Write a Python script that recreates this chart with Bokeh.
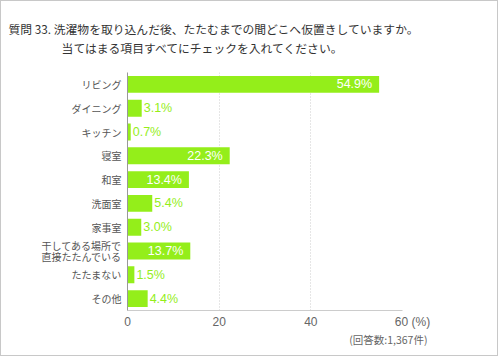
from bokeh.plotting import figure
from bokeh.models import FactorRange, ColumnDataSource, FixedTicker, Range1d, Title
from bokeh.core.properties import value
from bokeh.embed import file_html
from bokeh.resources import INLINE

categories = ["リビング", "ダイニング", "キッチン", "寝室", "和室", "洗面室", "家事室",
              "干してある場所で\n直接たたんでいる", "たたまない", "その他"]
values = [54.9, 3.1, 0.7, 22.3, 13.4, 5.4, 3.0, 13.7, 1.5, 4.4]
x_ticks = [0, 20, 40, 60]
unit_label = "(%)"
title_lines = ["質問 33. 洗濯物を取り込んだ後、たたむまでの間どこへ仮置きしていますか。",
               "当てはまる項目すべてにチェックを入れてください。"]
note = "(回答数:1,367件)"

GREEN = "#94ee1a"
JP = "Noto Sans CJK JP"
LAT = "Liberation Sans"

# canvas is 498x356 inside a 1px border -> 500x358 page
W, H = 498, 356
FL, FR, FT, FB = 126, 401, 71, 309
XMAX = 60

p = figure(width=W, height=H, output_backend="svg", toolbar_location=None,
           y_range=FactorRange(factors=categories[::-1], range_padding=0),
           x_range=Range1d(0, XMAX),
           min_border_left=FL, min_border_right=W - FR, min_border_top=FT, min_border_bottom=H - FB,
           outline_line_color=None)
p.background_fill_color = "white"
p.border_fill_color = "white"
p.styles = {"border": "1px solid #c8c8c8"}

inside = [v >= 10 for v in values]
src = ColumnDataSource(dict(
    cat=categories, val=values,
    in_lab=[f"{v:.1f}%" if i else "" for v, i in zip(values, inside)],
    out_lab=["" if i else f"{v:.1f}%" for v, i in zip(values, inside)],
))

p.hbar(y="cat", right="val", left=0, height=0.71, source=src,
       fill_color=GREEN, line_color=None)

p.text(x="val", y="cat", text="in_lab", source=src, x_offset=-7,
       text_align="right", text_baseline="middle", text_color="white",
       text_font=value(LAT), text_font_size="12.5px")
p.text(x="val", y="cat", text="out_lab", source=src, x_offset=2,
       text_align="left", text_baseline="middle", text_color=GREEN,
       text_font=value(LAT), text_font_size="12.5px")

p.xaxis.ticker = FixedTicker(ticks=x_ticks)
p.xaxis.major_label_overrides = {x_ticks[-1]: "\u00a0" * 6 + f"{x_ticks[-1]}\u00a0" + unit_label}
p.xaxis.axis_line_color = "#cccccc"
p.xaxis.major_tick_line_color = None
p.xaxis.minor_tick_line_color = None
p.xaxis.major_label_standoff = -2
p.xaxis.major_label_text_font = LAT
p.xaxis.major_label_text_font_size = "12px"
p.xaxis.major_label_text_color = "#666666"

p.yaxis.axis_line_color = "#999999"
p.yaxis.major_tick_line_color = None
p.yaxis.minor_tick_line_color = None
p.yaxis.major_label_standoff = 0
p.yaxis.major_label_text_font = JP
p.yaxis.major_label_text_font_size = "10px"
p.yaxis.major_label_text_color = "#555555"
p.yaxis.major_label_text_line_height = 0.75

p.ygrid.grid_line_color = None
p.xgrid.ticker = FixedTicker(ticks=x_ticks[1:])
p.xgrid.grid_line_color = "#cccccc"
p.xgrid.grid_line_dash = "1 2"

# title (two lines, second one indented under the question text)
p.add_layout(Title(text=title_lines[0] + "\n" + "\u3000" * 4 + "\u2002" + title_lines[1],
                   align="left", offset=7 - FL, standoff=30, vertical_align="top",
                   text_font=JP, text_font_size="11.8px", text_color="#333333",
                   text_font_style="normal", text_line_height=1.14), "above")
p.add_layout(Title(text=note, align="right", offset=-25, standoff=0, vertical_align="top",
                   text_font=JP, text_font_size="10.5px", text_color="#666666",
                   text_font_style="normal"), "below")

open("out.html", "w").write(file_html(p, INLINE))
